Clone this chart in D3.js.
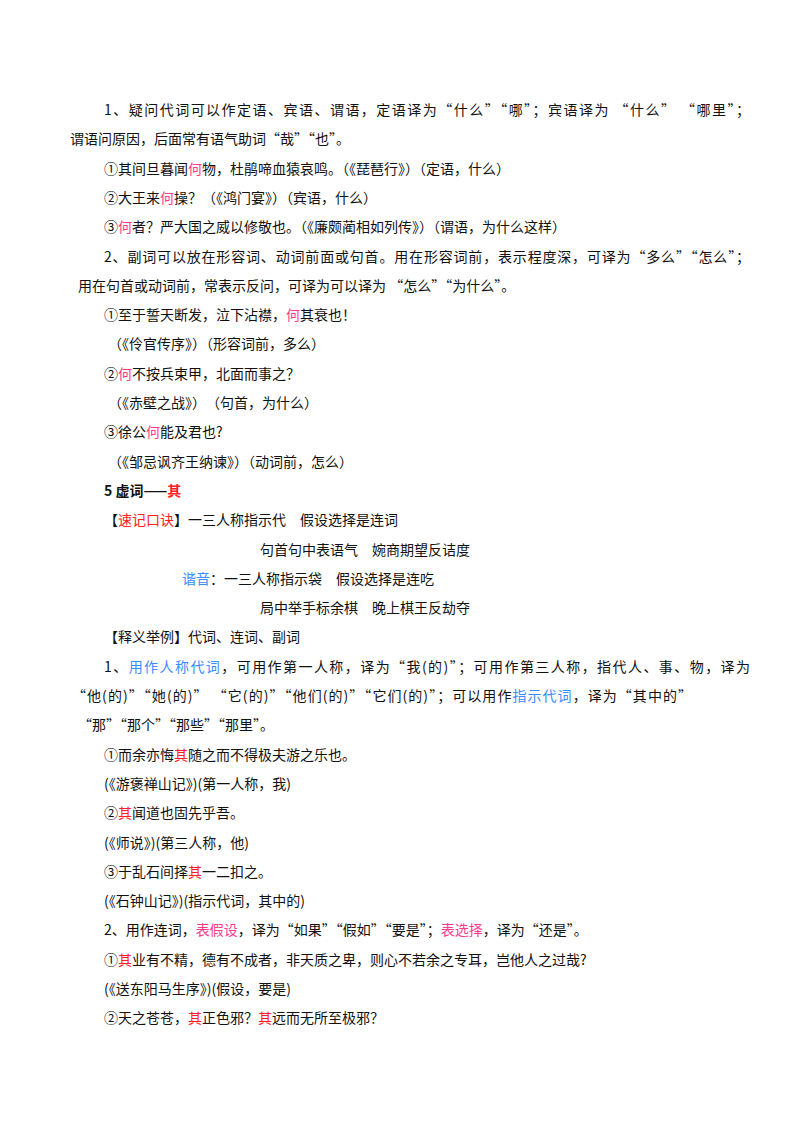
<!DOCTYPE html>
<html><head><meta charset="utf-8">
<script src="https://cdn.jsdelivr.net/npm/d3@7"></script>
<style>body{margin:0;background:#fff}</style>
</head><body>
<script>
// colour keys: k black, p pink, r red, b blue
var lines = [
  [["1、疑问代词可以作定语、宾语、谓语，定语译为“什么”“哪”；宾语译为 “什么” “哪里”；","k"]],
  [["谓语问原因，后面常有语气助词“哉”“也”。","k"]],
  [["①其间旦暮闻","k"],["何","p"],["物，杜鹃啼血猿哀鸣。（《琵琶行》）（定语，什么）","k"]],
  [["②大王来","k"],["何","p"],["操？（《鸿门宴》）（宾语，什么）","k"]],
  [["③","k"],["何","p"],["者？严大国之威以修敬也。（《廉颇蔺相如列传》）（谓语，为什么这样）","k"]],
  [["2、副词可以放在形容词、动词前面或句首。用在形容词前，表示程度深，可译为“多么”“怎么”；","k"]],
  [["用在句首或动词前，常表示反问，可译为可以译为 “怎么”“为什么”。","k"]],
  [["①至于誓天断发，泣下沾襟，","k"],["何","p"],["其衰也！","k"]],
  [["（《伶官传序》）（形容词前，多么）","k"]],
  [["②","k"],["何","p"],["不按兵束甲，北面而事之？","k"]],
  [["（《赤壁之战》）　（句首，为什么）","k"]],
  [["③徐公","k"],["何","p"],["能及君也?","k"]],
  [["（《邹忌讽齐王纳谏》）（动词前，怎么）","k"]],
  [["5 虚词——","kb"],["其","rb"]],
  [["【","k"],["速记口诀","r"],["】一三人称指示代　假设选择是连词","k"]],
  [["句首句中表语气　婉商期望反诘度","k"]],
  [["谐音","b"],["：一三人称指示袋　假设选择是连吃","k"]],
  [["局中举手标余棋　晚上棋王反劫夺","k"]],
  [["【释义举例】代词、连词、副词","k"]],
  [["1、","k"],["用作人称代词","b"],["，可用作第一人称，译为“我(的)”；可用作第三人称，指代人、事、物，译为","k"]],
  [["“他(的)”“她(的)” “它(的)”“他们(的)”“它们(的)”；可以用作","k"],["指示代词","b"],["，译为“其中的”","k"]],
  [["“那”“那个”“那些”“那里”。","k"]],
  [["①而余亦悔","k"],["其","r"],["随之而不得极夫游之乐也。","k"]],
  [["(《游褒禅山记》)(第一人称，我)","k"]],
  [["②","k"],["其","r"],["闻道也固先乎吾。","k"]],
  [["(《师说》)(第三人称，他)","k"]],
  [["③于乱石间择","k"],["其","r"],["一二扣之。","k"]],
  [["(《石钟山记》)(指示代词，其中的)","k"]],
  [["2、用作连词，","k"],["表假设","p"],["，译为“如果”“假如”“要是”；","k"],["表选择","p"],["，译为“还是”。","k"]],
  [["①","k"],["其","r"],["业有不精，德有不成者，非天质之卑，则心不若余之专耳，岂他人之过哉?","k"]],
  [["(《送东阳马生序》)(假设，要是)","k"]],
  [["②天之苍苍，","k"],["其","r"],["正色邪？","k"],["其","r"],["远而无所至极邪？","k"]]
];
var lineX = [104,70,104,104,104,104,78,104,108,104,108,104,108,104,104,260,182,260,104,104,72,78,104,104,104,104,104,104,104,104,104,104];
var justify = {0:646, 5:646, 19:646, 20:620};
var colors = {k:"#111", p:"#ff3a8c", r:"#ff2020", b:"#3a8cff"};

var svg = d3.select("body").append("svg").attr("width",800).attr("height",1132);
var y = d3.scaleLinear().domain([0,1]).range([115,144.3]);

var t = svg.selectAll("text.ln").data(lines).enter().append("text")
  .attr("x",(d,i)=>lineX[i]).attr("y",(d,i)=>y(i))
  .style("font-family","'Noto Sans CJK SC', sans-serif").style("font-size","14px");
t.each(function(d,i){
  if (justify[i]) d3.select(this).attr("textLength",justify[i]).attr("lengthAdjust","spacing");
});
t.selectAll("tspan").data(d=>d).enter().append("tspan")
  .text(d=>d[0]).attr("fill",d=>colors[d[1][0]])
  .style("font-weight",d=>d[1].length>1?"bold":null);
</script>
</body></html>
